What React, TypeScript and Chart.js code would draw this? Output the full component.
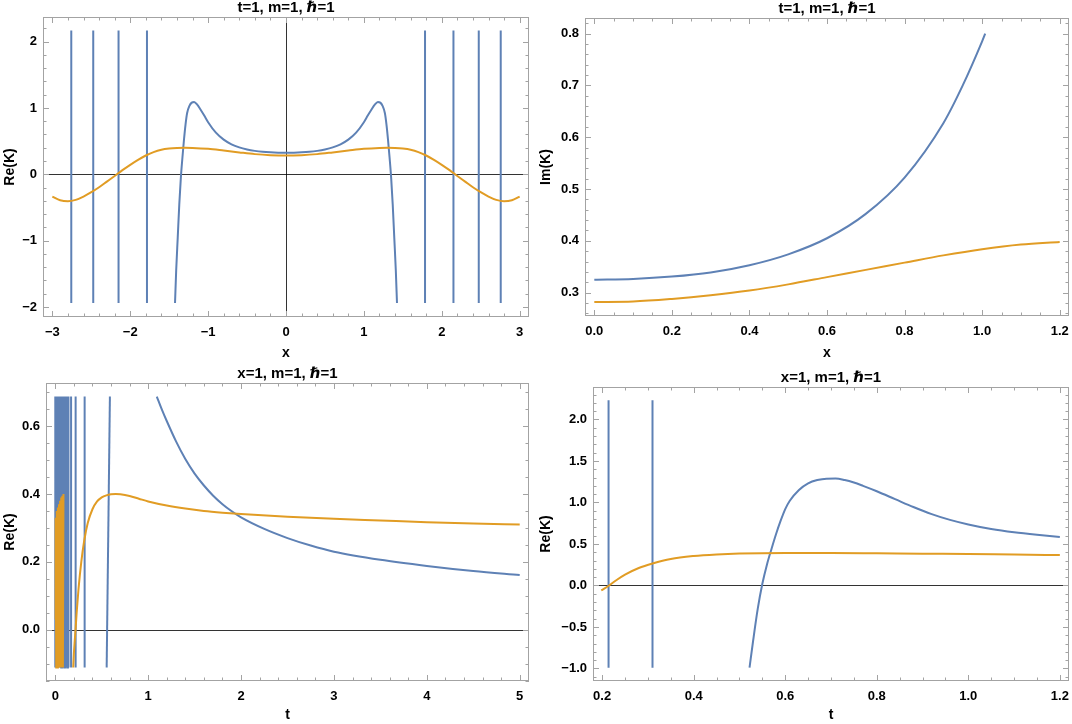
import React, { useEffect, useRef } from "react";
import { Chart, registerables } from "chart.js";

Chart.register(...registerables);

const BLUE = "#5e81b5";
const ORANGE = "#e19c24";
const FONT = "'Liberation Sans', Arial, 'DejaVu Sans', sans-serif";
const PANEL_W = 536;
const PANEL_H = 362;

// ---------- top left: t=1, Re(K) against x ----------
const p1XTicks = [-3, -2, -1, 0, 1, 2, 3];
const p1XLabels = ["−3", "−2", "−1", "0", "1", "2", "3"];
const p1YTicks = [-2, -1, 0, 1, 2];
const p1YLabels = ["−2", "−1", "0", "1", "2"];
const p1PoleX = [-2.757, -2.475, -2.15, -1.785, 1.785, 2.15, 2.475, 2.757];
const p1PoleY = [-1.94, 2.165];
const p1BlueX = [
  -1.425, -1.41, -1.39, -1.37, -1.35, -1.33, -1.31, -1.29, -1.27, -1.24, -1.21, -1.18, -1.14, -1.1, -1.05, -1.0,
  -0.9, -0.8, -0.7, -0.6, -0.5, -0.4, -0.3, -0.2, -0.1, 0, 0.1, 0.2, 0.3, 0.4, 0.5, 0.6, 0.7, 0.8, 0.9, 1.0, 1.05,
  1.1, 1.14, 1.18, 1.21, 1.24, 1.27, 1.29, 1.31, 1.33, 1.35, 1.37, 1.39, 1.41, 1.425,
];
const p1BlueY = [
  -1.94, -1.45, -0.95, -0.45, -0.05, 0.25, 0.52, 0.75, 0.92, 1.03, 1.08, 1.09, 1.05, 0.98, 0.885, 0.785, 0.627,
  0.522, 0.452, 0.405, 0.374, 0.353, 0.339, 0.331, 0.3265, 0.325, 0.3265, 0.331, 0.339, 0.353, 0.374, 0.405, 0.452,
  0.522, 0.627, 0.785, 0.885, 0.98, 1.05, 1.09, 1.08, 1.03, 0.92, 0.75, 0.52, 0.25, -0.05, -0.45, -0.95, -1.45, -1.94,
];
const p1OrangeX = [
  -3.0, -2.9, -2.8, -2.7, -2.6, -2.5, -2.4, -2.3, -2.2, -2.1, -2.0, -1.9, -1.8, -1.7, -1.6, -1.5, -1.4, -1.3, -1.2,
  -1.0, -0.8, -0.6, -0.4, -0.2, 0, 0.2, 0.4, 0.6, 0.8, 1.0, 1.2, 1.3, 1.4, 1.5, 1.6, 1.7, 1.8, 1.9, 2.0, 2.1, 2.2,
  2.3, 2.4, 2.5, 2.6, 2.7, 2.8, 2.9, 3.0,
];
const p1OrangeY = [
  -0.335, -0.39, -0.405, -0.385, -0.335, -0.27, -0.195, -0.11, -0.025, 0.062, 0.143, 0.218, 0.283, 0.335, 0.37,
  0.388, 0.397, 0.4, 0.398, 0.384, 0.358, 0.33, 0.304, 0.288, 0.282, 0.288, 0.304, 0.33, 0.358, 0.384, 0.398, 0.4,
  0.397, 0.388, 0.37, 0.335, 0.283, 0.218, 0.143, 0.062, -0.025, -0.11, -0.195, -0.27, -0.335, -0.385, -0.405,
  -0.39, -0.335,
];

// ---------- top right: t=1, Im(K) against x ----------
const p2XTicks = [0, 0.2, 0.4, 0.6, 0.8, 1.0, 1.2];
const p2XLabels = ["0.0", "0.2", "0.4", "0.6", "0.8", "1.0", "1.2"];
const p2YTicks = [0.3, 0.4, 0.5, 0.6, 0.7, 0.8];
const p2YLabels = ["0.3", "0.4", "0.5", "0.6", "0.7", "0.8"];
const p2BlueX = [0, 0.1, 0.2, 0.3, 0.4, 0.5, 0.6, 0.7, 0.8, 0.9, 0.95, 1.0, 1.008];
const p2BlueY = [0.325, 0.3265, 0.331, 0.339, 0.353, 0.374, 0.405, 0.452, 0.522, 0.627, 0.7, 0.785, 0.8];
const p2OrangeX = [0, 0.1, 0.2, 0.3, 0.4, 0.5, 0.6, 0.7, 0.8, 0.9, 1.0, 1.1, 1.2];
const p2OrangeY = [0.282, 0.283, 0.288, 0.295, 0.304, 0.316, 0.33, 0.344, 0.358, 0.372, 0.384, 0.393, 0.398];

// ---------- bottom left: x=1, Re(K) against t ----------
const p3XTicks = [0, 1, 2, 3, 4, 5];
const p3XLabels = ["0", "1", "2", "3", "4", "5"];
const p3YTicks = [0, 0.2, 0.4, 0.6];
const p3YLabels = ["0.0", "0.2", "0.4", "0.6"];
const p3BlueBandX = [
  0, 0, 0.008, 0.016, 0.024, 0.032, 0.04, 0.048, 0.056, 0.064, 0.072, 0.08, 0.088, 0.096, 0.104, 0.112, 0.12, 0.128,
  0.136, 0.142, 0.142,
];
const p3BlueBandY = [
  0.687, -0.111, 0.687, -0.111, 0.687, -0.111, 0.687, -0.111, 0.687, -0.111, 0.687, -0.111, 0.687, -0.111, 0.687,
  -0.111, 0.687, -0.111, 0.687, -0.111, 0.687,
];
const p3PoleX = [0.17, 0.219, 0.316];
const p3PoleY = [-0.111, 0.687];
const p3BlueRiseX = [0.553, 0.588];
const p3BlueRiseY = [-0.111, 0.687];
const p3BlueX = [1.093, 1.15, 1.2, 1.3, 1.4, 1.5, 1.6, 1.7, 1.8, 1.9, 2.0, 2.25, 2.5, 2.75, 3.0, 3.5, 4.0, 4.5, 5.0];
const p3BlueY = [
  0.687, 0.647, 0.615, 0.555, 0.503, 0.46, 0.425, 0.395, 0.37, 0.349, 0.331, 0.297, 0.27, 0.248, 0.23, 0.206, 0.188,
  0.173, 0.161,
];
const p3OrangeBandX = [
  0, 0.004, 0.01, 0.016, 0.022, 0.028, 0.034, 0.04, 0.046, 0.052, 0.058, 0.064, 0.07, 0.076, 0.082, 0.088,
];
const p3OrangeBandY = [
  0.03, 0.33, -0.111, 0.35, -0.111, 0.36, -0.111, 0.37, -0.111, 0.38, -0.111, 0.39, -0.111, 0.395, -0.111, 0.4,
];
const p3OrangeX = [
  0.193, 0.2, 0.21, 0.218, 0.23, 0.25, 0.28, 0.31, 0.35, 0.4, 0.45, 0.5, 0.55, 0.6, 0.65, 0.7, 0.8, 0.9, 1.0, 1.2,
  1.4, 1.6, 1.8, 2.0, 2.5, 3.0, 3.5, 4.0, 4.5, 5.0,
];
const p3OrangeY = [
  -0.111, -0.07, -0.03, 0, 0.05, 0.12, 0.2, 0.26, 0.315, 0.355, 0.378, 0.39, 0.396, 0.399, 0.4, 0.399, 0.394, 0.386,
  0.378, 0.366, 0.357, 0.35, 0.345, 0.341, 0.333, 0.327, 0.322, 0.317, 0.313, 0.31,
];

// ---------- bottom right: x=1, Re(K) against t (zoomed) ----------
const p4XTicks = [0.2, 0.4, 0.6, 0.8, 1.0, 1.2];
const p4XLabels = ["0.2", "0.4", "0.6", "0.8", "1.0", "1.2"];
const p4YTicks = [-1, -0.5, 0, 0.5, 1, 1.5, 2];
const p4YLabels = ["−1.0", "−0.5", "0.0", "0.5", "1.0", "1.5", "2.0"];
const p4PoleX = [0.214, 0.31];
const p4PoleY = [-0.99, 2.23];
const p4BlueX = [
  0.522, 0.53, 0.54, 0.55, 0.56, 0.57, 0.58, 0.59, 0.6, 0.61, 0.63, 0.65, 0.67, 0.69, 0.71, 0.73, 0.75, 0.77, 0.8,
  0.84, 0.88, 0.92, 0.96, 1.0, 1.05, 1.1, 1.15, 1.2,
];
const p4BlueY = [
  -0.99, -0.66, -0.28, 0.02, 0.25, 0.44, 0.62, 0.78, 0.92, 1.02, 1.15, 1.23, 1.27, 1.287, 1.288, 1.27, 1.24, 1.2,
  1.135, 1.04, 0.945, 0.86, 0.79, 0.735, 0.68, 0.64, 0.61, 0.585,
];
const p4OrangeX = [0.198, 0.215, 0.23, 0.25, 0.28, 0.31, 0.35, 0.4, 0.45, 0.5, 0.6, 0.7, 0.8, 0.9, 1.0, 1.1, 1.2];
const p4OrangeY = [
  -0.06, 0, 0.06, 0.13, 0.21, 0.265, 0.32, 0.355, 0.374, 0.385, 0.392, 0.392, 0.388, 0.383, 0.38, 0.372, 0.366,
];

interface Series {
  xs: number[];
  ys: number[];
  color: string;
  smooth?: boolean;
}

interface PanelSpec {
  left: number;
  top: number;
  area: { l: number; t: number; r: number; b: number };
  xRange: [number, number];
  yRange: [number, number];
  xTicks: number[];
  xLabels: string[];
  yTicks: number[];
  yLabels: string[];
  xMinor: number;
  yMinor: number;
  title: string;
  xTitle: string;
  yTitle: string;
  zeroX: boolean;
  zeroY: boolean;
  series: Series[];
}

const poles = (xs: number[], ys: number[]): Series[] =>
  xs.map((x) => ({ xs: [x, x], ys, color: BLUE }));

const specs: PanelSpec[] = [
  {
    left: 0,
    top: 0,
    area: { l: 43, t: 17, r: 529, b: 317 },
    xRange: [-3.12, 3.12],
    yRange: [-2.15, 2.37],
    xTicks: p1XTicks,
    xLabels: p1XLabels,
    yTicks: p1YTicks,
    yLabels: p1YLabels,
    xMinor: 0.2,
    yMinor: 0.2,
    title: "t=1, m=1, ℏ=1",
    xTitle: "x",
    yTitle: "Re(K)",
    zeroX: true,
    zeroY: true,
    series: [
      { xs: p1OrangeX, ys: p1OrangeY, color: ORANGE, smooth: true },
      { xs: p1BlueX, ys: p1BlueY, color: BLUE, smooth: true },
      ...poles(p1PoleX, p1PoleY),
    ],
  },
  {
    left: PANEL_W,
    top: 0,
    area: { l: 49, t: 18, r: 533, b: 316 },
    xRange: [-0.024, 1.224],
    yRange: [0.255, 0.83],
    xTicks: p2XTicks,
    xLabels: p2XLabels,
    yTicks: p2YTicks,
    yLabels: p2YLabels,
    xMinor: 0.05,
    yMinor: 0.02,
    title: "t=1, m=1, ℏ=1",
    xTitle: "x",
    yTitle: "Im(K)",
    zeroX: false,
    zeroY: false,
    series: [
      { xs: p2OrangeX, ys: p2OrangeY, color: ORANGE, smooth: true },
      { xs: p2BlueX, ys: p2BlueY, color: BLUE, smooth: true },
    ],
  },
  {
    left: 0,
    top: PANEL_H,
    area: { l: 46, t: 21, r: 529, b: 319 },
    xRange: [-0.1, 5.1],
    yRange: [-0.151, 0.727],
    xTicks: p3XTicks,
    xLabels: p3XLabels,
    yTicks: p3YTicks,
    yLabels: p3YLabels,
    xMinor: 0.2,
    yMinor: 0.05,
    title: "x=1, m=1, ℏ=1",
    xTitle: "t",
    yTitle: "Re(K)",
    zeroX: false,
    zeroY: true,
    series: [
      { xs: p3OrangeBandX, ys: p3OrangeBandY, color: ORANGE },
      { xs: p3OrangeX, ys: p3OrangeY, color: ORANGE, smooth: true },
      { xs: p3BlueBandX, ys: p3BlueBandY, color: BLUE },
      ...poles(p3PoleX, p3PoleY),
      { xs: p3BlueRiseX, ys: p3BlueRiseY, color: BLUE },
      { xs: p3BlueX, ys: p3BlueY, color: BLUE, smooth: true },
    ],
  },
  {
    left: PANEL_W,
    top: PANEL_H,
    area: { l: 57, t: 25, r: 533, b: 319 },
    xRange: [0.18, 1.22],
    yRange: [-1.151, 2.391],
    xTicks: p4XTicks,
    xLabels: p4XLabels,
    yTicks: p4YTicks,
    yLabels: p4YLabels,
    xMinor: 0.05,
    yMinor: 0.1,
    title: "x=1, m=1, ℏ=1",
    xTitle: "t",
    yTitle: "Re(K)",
    zeroX: false,
    zeroY: true,
    series: [
      { xs: p4OrangeX, ys: p4OrangeY, color: ORANGE, smooth: true },
      { xs: p4BlueX, ys: p4BlueY, color: BLUE, smooth: true },
      ...poles(p4PoleX, p4PoleY),
    ],
  },
];

function minorValues(min: number, max: number, step: number, majors: number[]) {
  const out: number[] = [];
  for (let k = Math.ceil(min / step - 1e-9); k * step <= max + 1e-9; k++) {
    const v = k * step;
    if (!majors.some((m) => Math.abs(m - v) < step / 10)) out.push(v);
  }
  return out;
}

// title with the ℏ set in italic, the rest upright bold
function drawTitle(ctx: CanvasRenderingContext2D, text: string, cx: number, cy: number) {
  const upright = `bold 15px ${FONT}`;
  const italic = `italic bold 15px ${FONT}`;
  const parts = text.split("ℏ");
  const pieces: { s: string; f: string }[] = [];
  parts.forEach((p, i) => {
    if (i > 0) pieces.push({ s: "ℏ", f: italic });
    if (p) pieces.push({ s: p, f: upright });
  });
  let total = 0;
  pieces.forEach((p) => {
    ctx.font = p.f;
    total += ctx.measureText(p.s).width;
  });
  let x = cx - total / 2;
  ctx.textAlign = "left";
  ctx.textBaseline = "middle";
  pieces.forEach((p) => {
    ctx.font = p.f;
    ctx.fillText(p.s, x, cy);
    x += ctx.measureText(p.s).width;
  });
}

function makeFramePlugin(spec: PanelSpec) {
  return {
    id: "mmaFrame",
    beforeDatasetsDraw(chart: any) {
      const { ctx, chartArea: a, scales } = chart;
      ctx.save();
      ctx.strokeStyle = "rgba(0,0,0,0.8)";
      ctx.lineWidth = 1;
      if (spec.zeroY) {
        const y = Math.round(scales.y.getPixelForValue(0)) + 0.5;
        ctx.beginPath();
        ctx.moveTo(a.left, y);
        ctx.lineTo(a.right, y);
        ctx.stroke();
      }
      if (spec.zeroX) {
        const x = Math.round(scales.x.getPixelForValue(0)) + 0.5;
        ctx.beginPath();
        ctx.moveTo(x, a.top);
        ctx.lineTo(x, a.bottom);
        ctx.stroke();
      }
      ctx.restore();
    },
    afterDraw(chart: any) {
      const { ctx, chartArea: a, scales } = chart;
      ctx.save();
      ctx.strokeStyle = "#a3a3a3";
      ctx.lineWidth = 1;
      ctx.strokeRect(a.left + 0.5, a.top + 0.5, a.right - a.left - 1, a.bottom - a.top - 1);

      const xMin = minorValues(spec.xRange[0], spec.xRange[1], spec.xMinor, spec.xTicks);
      const yMin = minorValues(spec.yRange[0], spec.yRange[1], spec.yMinor, spec.yTicks);
      ctx.beginPath();
      const xMark = (v: number, len: number) => {
        const x = Math.round(scales.x.getPixelForValue(v)) + 0.5;
        ctx.moveTo(x, a.bottom);
        ctx.lineTo(x, a.bottom - len);
        ctx.moveTo(x, a.top);
        ctx.lineTo(x, a.top + len);
      };
      const yMark = (v: number, len: number) => {
        const y = Math.round(scales.y.getPixelForValue(v)) + 0.5;
        ctx.moveTo(a.left, y);
        ctx.lineTo(a.left + len, y);
        ctx.moveTo(a.right, y);
        ctx.lineTo(a.right - len, y);
      };
      spec.xTicks.forEach((v) => xMark(v, 6));
      xMin.forEach((v) => xMark(v, 3.5));
      spec.yTicks.forEach((v) => yMark(v, 6));
      yMin.forEach((v) => yMark(v, 3.5));
      ctx.stroke();

      ctx.fillStyle = "#000";
      drawTitle(ctx, spec.title, (a.left + a.right) / 2, a.top - 9);
      ctx.restore();
    },
  };
}

const Panel: React.FC<{ spec: PanelSpec }> = ({ spec }) => {
  const canvasRef = useRef<HTMLCanvasElement | null>(null);

  useEffect(() => {
    if (!canvasRef.current) return;
    const { area } = spec;
    const tickFont = { family: FONT, size: 13, weight: "bold" as const };
    const titleFont = { family: FONT, size: 14, weight: "bold" as const };

    const chart = new Chart(canvasRef.current, {
      type: "line",
      data: {
        datasets: spec.series.map((s) => ({
          data: s.xs.map((x, i) => ({ x, y: s.ys[i] })),
          borderColor: s.color,
          backgroundColor: s.color,
          borderWidth: 2,
          pointRadius: 0,
          fill: false,
          cubicInterpolationMode: s.smooth ? ("monotone" as const) : ("default" as const),
          tension: 0,
        })),
      },
      options: {
        responsive: true,
        maintainAspectRatio: false,
        animation: false,
        events: [],
        layout: { padding: { left: 0, top: area.t, right: PANEL_W - area.r, bottom: 0 } },
        plugins: { legend: { display: false }, tooltip: { enabled: false }, title: { display: false } },
        scales: {
          x: {
            type: "linear",
            min: spec.xRange[0],
            max: spec.xRange[1],
            grid: { display: false, drawTicks: false },
            border: { display: false },
            afterBuildTicks: (s: any) => {
              s.ticks = spec.xTicks.map((value) => ({ value }));
            },
            afterFit: (s: any) => {
              s.height = PANEL_H - area.b;
              s.paddingLeft = 0;
              s.paddingRight = 0;
            },
            ticks: {
              padding: 8,
              color: "#000",
              font: tickFont,
              maxRotation: 0,
              autoSkip: false,
              callback: (_v: any, i: number) => spec.xLabels[i],
            },
            title: { display: true, text: spec.xTitle, color: "#000", font: titleFont, padding: { top: 0, bottom: 0 } },
          },
          y: {
            type: "linear",
            min: spec.yRange[0],
            max: spec.yRange[1],
            grid: { display: false, drawTicks: false },
            border: { display: false },
            afterBuildTicks: (s: any) => {
              s.ticks = spec.yTicks.map((value) => ({ value }));
            },
            afterFit: (s: any) => {
              s.width = area.l;
              s.paddingTop = 0;
              s.paddingBottom = 0;
            },
            ticks: {
              padding: 6,
              color: "#000",
              font: tickFont,
              autoSkip: false,
              callback: (_v: any, i: number) => spec.yLabels[i],
            },
            title: { display: true, text: spec.yTitle, color: "#000", font: titleFont, padding: { top: 2, bottom: 0 } },
          },
        },
      },
      plugins: [makeFramePlugin(spec)],
    });

    return () => {
      chart.destroy();
    };
  }, [spec]);

  return (
    <div style={{ position: "absolute", left: spec.left, top: spec.top, width: PANEL_W, height: PANEL_H }}>
      <canvas ref={canvasRef}></canvas>
    </div>
  );
};

export default function App() {
  return (
    <div style={{ position: "absolute", left: 0, top: 0, width: 1072, height: 724, background: "#fff" }}>
      {specs.map((s, i) => (
        <Panel key={i} spec={s} />
      ))}
    </div>
  );
}
